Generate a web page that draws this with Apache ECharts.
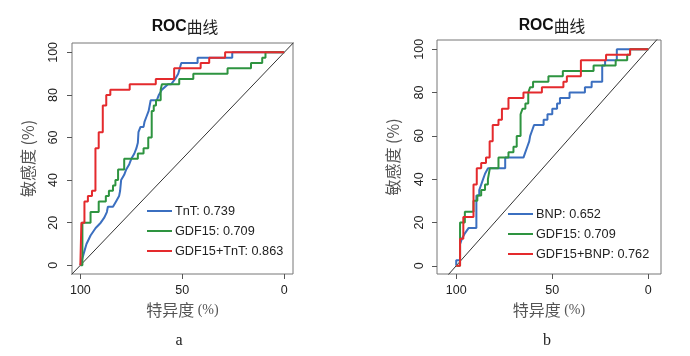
<!DOCTYPE html>
<html>
<head>
<meta charset="utf-8">
<script src="https://cdn.jsdelivr.net/npm/echarts@6/dist/echarts.min.js"></script>
<style>html,body{margin:0;padding:0;background:#fff}#c{width:690px;height:356px}</style>
</head>
<body>
<div id="c"></div>
<script>
// ---- tick labels ----
const xTicks = [0, 50, 100];
const yTicks = [0, 20, 40, 60, 80, 100];

// ---- panel a: series names ----
const namesA = ['TnT: 0.739', 'GDF15: 0.709', 'GDF15+TnT: 0.863'];
// TnT (specificity %, sensitivity %)
const specA_TnT = [100,98.5,97,95,92.5,90,88.2,87,86.5,84,82.5,81,80.5,80,78.5,77.5,76,75,73.5,72.5,71.8,71.5,70.5,69,68.5,67.5,66.5,65.5,62.5,61.5,60,57,55.5,53.5,52,50.5,42.5,42.5,25.5,25.5,0];
const sensA_TnT = [0,5,10,14,17.5,20,22.5,25,27.5,27.5,30,32.5,35,40,42.5,45,47.5,50,52.5,55,57.5,62.5,65,65,67.5,70,72.5,77.5,77.5,80,82.5,85,85,87.5,90,95,95,97.5,97.5,100,100];
// GDF15
const specA_GDF = [100,99,99,95,95,91,91,87.5,87.5,86,86,84,84,82.8,82.8,81.5,81.5,78.5,78.5,71.8,71.8,69,69,66.7,66.7,65,65,64,64,62.9,62.9,60.6,60.6,60,60,51.5,51.5,44.6,44.6,27.8,27.8,16.3,16.3,10.8,10.8,9.2,9.2,0];
const sensA_GDF = [0,0,20,20,25,25,30,30,32.5,32.5,35,35,37.5,37.5,40,40,45,45,50,50,52.5,52.5,55,55,60,60,72.5,72.5,75,75,77.5,77.5,82.5,82.5,85,85,87.5,87.5,90,90,92.5,92.5,95,95,97.5,97.5,100,100];
// GDF15+TnT
const specA_Comb = [100,99.5,99.5,98,98,96.3,96.3,94.3,94.3,92.6,92.6,91,91,89,89,87.3,87.3,85.3,85.3,75.8,75.8,63,63,54,54,41,41,36.8,36.8,29,29,0];
const sensA_Comb = [0,0,20,20,30,30,32.5,32.5,35,35,55,55,62.5,62.5,75,75,80,80,82.5,82.5,85,85,87.5,87.5,92.5,92.5,95,95,97.5,97.5,100,100];

// ---- panel b ----
const namesB = ['BNP: 0.652', 'GDF15: 0.709', 'GDF15+BNP: 0.762'];
const specB_BNP = [100,100,98,98,97,95.5,93.5,89.5,89.5,88,88,87,87,86,85,83.5,74.5,74.5,65,64,63,62,61.5,60.5,59.5,54.5,54.5,52.5,52.5,50,50,47.5,47.5,46,46,41,41,33,33,29.5,29.5,24,24,22.5,22.5,16.4,16.4,0];
const sensB_BNP = [0,2.5,2.5,10,12.5,15,17.5,17.5,32.5,32.5,35,35,37.5,40,42.5,45,45,50,50,52.5,55,57.5,60,62.5,65,65,67.5,67.5,70,70,72.5,72.5,75,75,77.5,77.5,80,80,82.5,82.5,85,85,92.5,92.5,95,95,100,100];
const specB_GDF = [100,98,98,95.5,95.5,91,91,89,89,87,87,85,85,83.5,83.5,82.5,82.5,78,78,72.8,72.8,70.2,70.2,68.5,68.5,66.5,66.5,65.5,64,64,62.5,62.5,61.5,60,60,52,52,44.5,44.5,28.5,28.5,17,17,11,11,9.5,9.5,0];
const sensB_GDF = [0,0,20,20,25,25,30,30,32.5,32.5,35,35,37.5,37.5,40,40,45,45,50,50,52.5,52.5,55,55,60,60,70,72.5,72.5,75,75,80,82.5,82.5,85,85,87.5,87.5,90,90,92.5,92.5,95,95,97.5,97.5,100,100];
const specB_Comb = [100,98,98,96.3,96.3,91,91,89.3,89.3,87,87,84.5,84.5,82.6,82.6,81,81,78,78,76.2,76.2,72.8,72.8,65,65,55.4,55.4,44.2,44.2,42.4,42.4,35.1,35.1,22,22,9.5,9.5,0];
const sensB_Comb = [0,0,12.5,12.5,22.5,22.5,37.5,37.5,45,45,47.5,47.5,50,50,57.5,57.5,65,65,67.5,67.5,72.5,72.5,77.5,77.5,80,80,82.5,82.5,85,85,87.5,87.5,95,95,97.5,97.5,100,100];

// reference line sensitivity = 100 - specificity (extended, clipped by grid)
const diagSpec = [120, -20];
const diagSens = [-20, 120];

const colors = ['#3B6FC0', '#2E9440', '#E42A2D'];
const zip = (a, b) => a.map((v, i) => [v, b[i]]);
const FONT = "'Liberation Sans','Noto Sans CJK SC',sans-serif";
const CJK = "'Noto Sans CJK SC','Liberation Sans',sans-serif";

function xAx(gi, min, max) {
  return {
    gridIndex: gi, type: 'value', inverse: true, min: min, max: max, position: 'bottom',
    axisLine: { show: false, onZero: false }, splitLine: { show: false },
    axisTick: { show: true, inside: false, length: 5, customValues: xTicks, lineStyle: { color: '#555' } },
    axisLabel: { customValues: xTicks, margin: 10, fontSize: 12.5, color: '#222', fontFamily: FONT },
    name: '{c|特异度} {p|(%)}', nameLocation: 'middle', nameGap: 28,
    nameTextStyle: { rich: {
      c: { fontSize: 16, color: '#555', fontFamily: CJK },
      p: { fontSize: 14, color: '#555', fontFamily: "'Liberation Serif',serif" } } }
  };
}
function yAx(gi, min, max, margin) {
  return {
    gridIndex: gi, type: 'value', min: min, max: max, position: 'left',
    axisLine: { show: false, onZero: false }, splitLine: { show: false },
    axisTick: { show: true, inside: false, length: 5, customValues: yTicks, lineStyle: { color: '#555' } },
    axisLabel: { customValues: yTicks, rotate: 90, margin: margin, fontSize: 12.5, color: '#222', fontFamily: FONT },
    name: '敏感度 (%)', nameLocation: 'middle', nameGap: 36,
    nameTextStyle: { fontSize: 16, color: '#555', fontFamily: CJK }
  };
}
function curve(name, gi, sx, sy, color) {
  return { name: name, type: 'line', xAxisIndex: gi, yAxisIndex: gi, data: zip(sx, sy),
    showSymbol: false, symbol: 'none', clip: true, animation: false,
    lineStyle: { width: 2, color: color }, itemStyle: { color: color } };
}
function diag(gi) {
  return { type: 'line', xAxisIndex: gi, yAxisIndex: gi, data: zip(diagSpec, diagSens), silent: true,
    showSymbol: false, symbol: 'none', clip: true, animation: false,
    lineStyle: { width: 1, color: '#333' } };
}
function legendAt(names, left, top) {
  return { data: names, orient: 'vertical', left: left, top: top, icon: 'rect', padding: 0,
    itemWidth: 25, itemHeight: 2, itemGap: 6, selectedMode: false,
    textStyle: { fontSize: 12.7, color: '#222', fontFamily: FONT, lineHeight: 14, padding: [0, 0, 0, -2] } };
}
function titleAt(cx, top) {
  return { text: '{b|ROC}{n|曲线}', left: cx, top: top, textAlign: 'center', padding: 0,
    textStyle: { fontWeight: 'normal', rich: {
      b: { fontSize: 15.8, fontWeight: 'bold', color: '#111', fontFamily: FONT },
      n: { fontSize: 15.8, fontWeight: 'normal', color: '#222', fontFamily: CJK } } } };
}

const chart = echarts.init(document.getElementById('c'), null, { renderer: 'canvas' });
chart.setOption({
  backgroundColor: '#fff',
  animation: false,
  title: [
    titleAt(185, 19), titleAt(552, 18),
    { text: 'a', left: 179, top: 333, textAlign: 'center', padding: 0, textStyle: { fontSize: 16, fontWeight: 'normal', color: '#222', fontFamily: "'Liberation Serif',serif" } },
    { text: 'b', left: 547, top: 333, textAlign: 'center', padding: 0, textStyle: { fontSize: 16, fontWeight: 'normal', color: '#222', fontFamily: "'Liberation Serif',serif" } }
  ],
  grid: [
    { left: 72, top: 43, width: 221, height: 231, show: true, borderColor: '#777', borderWidth: 1, containLabel: false },
    { left: 437, top: 40, width: 224, height: 234, show: true, borderColor: '#777', borderWidth: 1, containLabel: false }
  ],
  xAxis: [xAx(0, -4.3, 104.1), xAx(1, -6.6, 110)],
  yAxis: [yAx(0, -4.1, 104.4, 12), yAx(1, -3.8, 104.3, 11)],
  legend: [legendAt(namesA, 147, 204), legendAt(namesB, 508, 207)],
  series: [
    diag(0),
    curve(namesA[0], 0, specA_TnT, sensA_TnT, colors[0]),
    curve(namesA[1], 0, specA_GDF, sensA_GDF, colors[1]),
    curve(namesA[2], 0, specA_Comb, sensA_Comb, colors[2]),
    diag(1),
    curve(namesB[0], 1, specB_BNP, sensB_BNP, colors[0]),
    curve(namesB[1], 1, specB_GDF, sensB_GDF, colors[1]),
    curve(namesB[2], 1, specB_Comb, sensB_Comb, colors[2])
  ]
});
</script>
</body>
</html>
